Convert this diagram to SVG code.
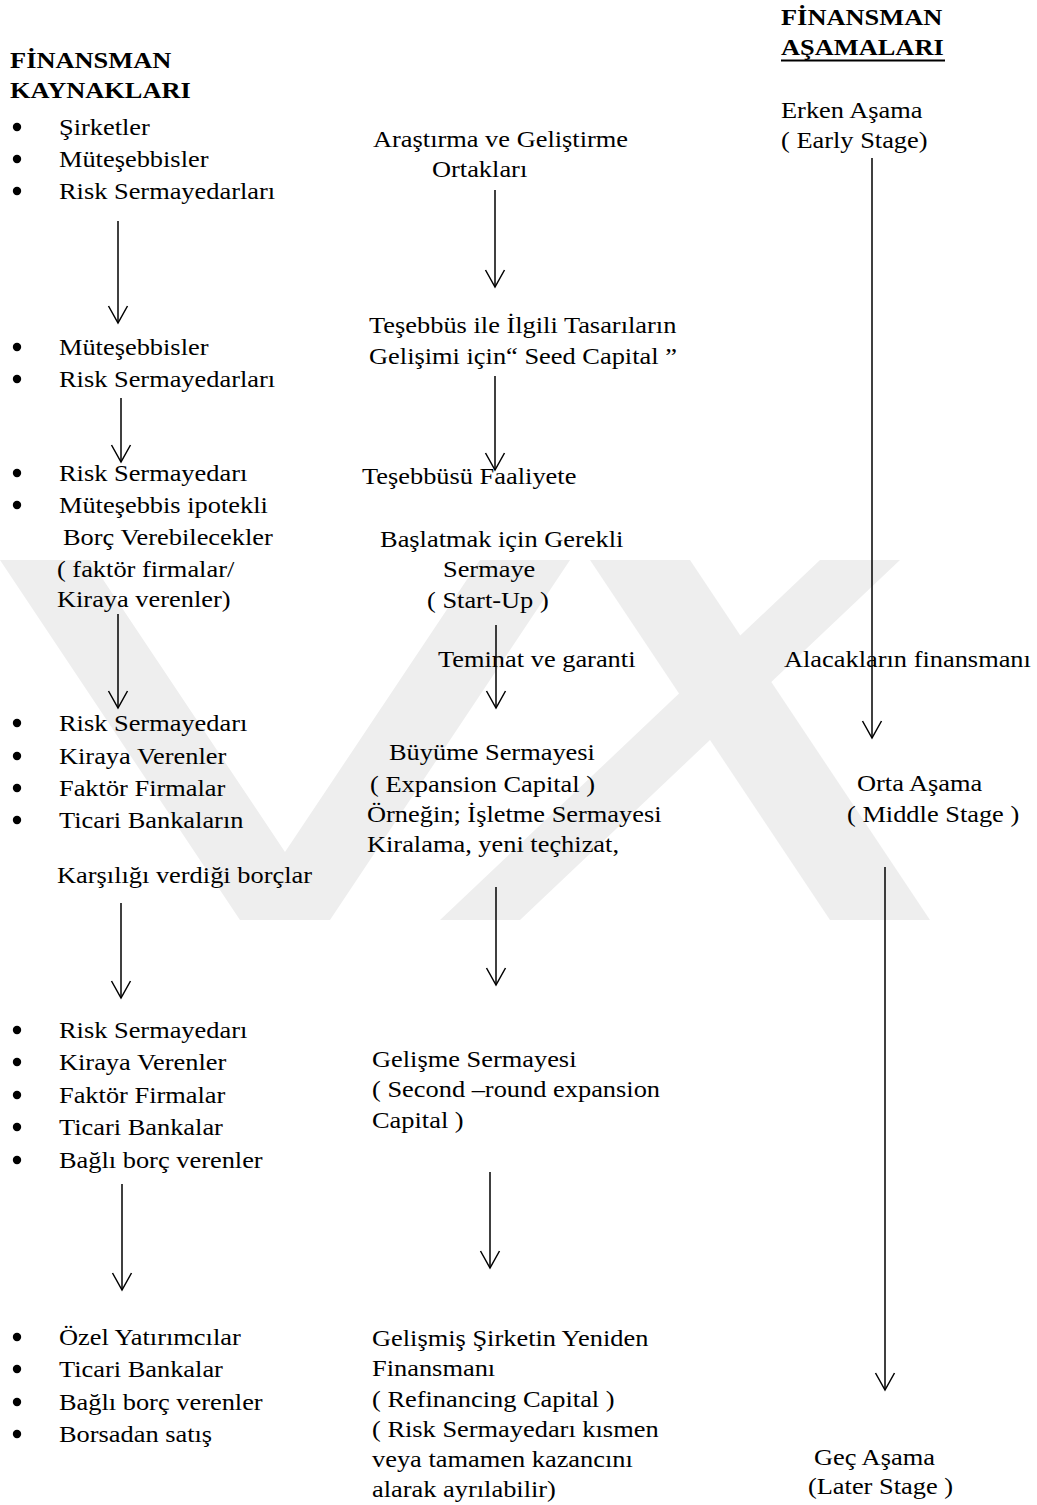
<svg xmlns="http://www.w3.org/2000/svg" width="1037" height="1505" viewBox="0 0 1037 1505">
<style>
.t{font-family:"Liberation Serif","Times New Roman",serif;font-size:24px;fill:#000}
.h{font-family:"Liberation Serif","Times New Roman",serif;font-weight:bold;font-size:24px;fill:#000}
.bl{fill:#000}
.c{stroke:#000;stroke-width:1.5;fill:none;marker-end:url(#ah)}
.wm{fill:#eeeeee}
</style>
<defs>
<marker id="ah" viewBox="-1 -11 20 22" markerWidth="20" markerHeight="22" refX="17" refY="0" orient="auto" markerUnits="userSpaceOnUse">
<path d="M0,-9.5 L17,0 L0,9.5" fill="none" stroke="#000" stroke-width="1.5"/>
</marker>
</defs>
<rect width="1037" height="1505" fill="#fff"/>
<g id="watermark">
<polygon class="wm" points="0,560 90,560 285,852 480,560 570,560 330,920 240,920"/>
<polygon class="wm" points="820,560 900,560 520,920 440,920"/>
<polygon class="wm" points="590,560 690,560 930,920 830,920"/>
</g>
<g id="connectors">
<line class="c" x1="118" y1="221" x2="118" y2="323"/>
<line class="c" x1="121" y1="398" x2="121" y2="462"/>
<line class="c" x1="118" y1="614" x2="118" y2="708"/>
<line class="c" x1="121" y1="903" x2="121" y2="998"/>
<line class="c" x1="122" y1="1184" x2="122" y2="1290"/>
<line class="c" x1="495" y1="190" x2="495" y2="287"/>
<line class="c" x1="495" y1="376" x2="495" y2="470"/>
<line class="c" x1="496" y1="625" x2="496" y2="708"/>
<line class="c" x1="496" y1="887" x2="496" y2="985"/>
<line class="c" x1="490" y1="1172" x2="490" y2="1268"/>
<line class="c" x1="872" y1="158" x2="872" y2="738"/>
<line class="c" x1="885" y1="867" x2="885" y2="1390"/>
</g>
<g id="bullets">
<circle class="bl" cx="17" cy="127" r="4.2"/><circle class="bl" cx="17" cy="159" r="4.2"/><circle class="bl" cx="17" cy="191" r="4.2"/>
<circle class="bl" cx="17" cy="347" r="4.2"/><circle class="bl" cx="17" cy="379" r="4.2"/>
<circle class="bl" cx="17" cy="473" r="4.2"/><circle class="bl" cx="17" cy="505" r="4.2"/>
<circle class="bl" cx="17" cy="723" r="4.2"/><circle class="bl" cx="17" cy="756" r="4.2"/><circle class="bl" cx="17" cy="788" r="4.2"/><circle class="bl" cx="17" cy="820" r="4.2"/>
<circle class="bl" cx="17" cy="1030" r="4.2"/><circle class="bl" cx="17" cy="1062" r="4.2"/><circle class="bl" cx="17" cy="1095" r="4.2"/><circle class="bl" cx="17" cy="1127" r="4.2"/><circle class="bl" cx="17" cy="1160" r="4.2"/>
<circle class="bl" cx="17" cy="1337" r="4.2"/><circle class="bl" cx="17" cy="1369" r="4.2"/><circle class="bl" cx="17" cy="1402" r="4.2"/><circle class="bl" cx="17" cy="1434" r="4.2"/>
</g>
<g id="head-kaynaklar" transform="scale(1.1 1)">
<text class="h" x="9.1" y="68">FİNANSMAN</text>
<text class="h" x="9.1" y="98">KAYNAKLARI</text>
</g>
<g id="kaynak-1" transform="scale(1.1 1)">
<text class="t" x="53.6" y="135">Şirketler</text>
<text class="t" x="53.6" y="167">Müteşebbisler</text>
<text class="t" x="53.6" y="199">Risk Sermayedarları</text>
</g>
<g id="kaynak-2" transform="scale(1.1 1)">
<text class="t" x="53.6" y="355">Müteşebbisler</text>
<text class="t" x="53.6" y="387">Risk Sermayedarları</text>
</g>
<g id="kaynak-3" transform="scale(1.1 1)">
<text class="t" x="53.6" y="481">Risk Sermayedarı</text>
<text class="t" x="53.6" y="513">Müteşebbis ipotekli</text>
<text class="t" x="57.3" y="545">Borç Verebilecekler</text>
<text class="t" x="51.8" y="577">( faktör firmalar/</text>
<text class="t" x="51.8" y="607">Kiraya verenler)</text>
</g>
<g id="kaynak-4" transform="scale(1.1 1)">
<text class="t" x="53.6" y="731">Risk Sermayedarı</text>
<text class="t" x="53.6" y="764">Kiraya Verenler</text>
<text class="t" x="53.6" y="796">Faktör Firmalar</text>
<text class="t" x="53.6" y="828">Ticari Bankaların</text>
<text class="t" x="51.8" y="883">Karşılığı verdiği borçlar</text>
</g>
<g id="kaynak-5" transform="scale(1.1 1)">
<text class="t" x="53.6" y="1038">Risk Sermayedarı</text>
<text class="t" x="53.6" y="1070">Kiraya Verenler</text>
<text class="t" x="53.6" y="1103">Faktör Firmalar</text>
<text class="t" x="53.6" y="1135">Ticari Bankalar</text>
<text class="t" x="53.6" y="1168">Bağlı borç verenler</text>
</g>
<g id="kaynak-6" transform="scale(1.1 1)">
<text class="t" x="53.6" y="1345">Özel Yatırımcılar</text>
<text class="t" x="53.6" y="1377">Ticari Bankalar</text>
<text class="t" x="53.6" y="1410">Bağlı borç verenler</text>
<text class="t" x="53.6" y="1442">Borsadan satış</text>
</g>
<g id="arge" transform="scale(1.1 1)">
<text class="t" x="339.1" y="147">Araştırma ve Geliştirme</text>
<text class="t" x="392.7" y="177">Ortakları</text>
</g>
<g id="seed" transform="scale(1.1 1)">
<text class="t" x="335.5" y="333">Teşebbüs ile İlgili Tasarıların</text>
<text class="t" x="335.5" y="364">Gelişimi için“ Seed Capital ”</text>
</g>
<g id="startup" transform="scale(1.1 1)">
<text class="t" x="329.1" y="484">Teşebbüsü Faaliyete</text>
<text class="t" x="345.5" y="547">Başlatmak için Gerekli</text>
<text class="t" x="402.7" y="577">Sermaye</text>
<text class="t" x="388.2" y="608">( Start-Up )</text>
</g>
<g id="teminat" transform="scale(1.1 1)">
<text class="t" x="398.2" y="667">Teminat ve garanti</text>
</g>
<g id="buyume" transform="scale(1.1 1)">
<text class="t" x="353.6" y="760">Büyüme Sermayesi</text>
<text class="t" x="336.4" y="792">( Expansion Capital )</text>
<text class="t" x="333.6" y="822">Örneğin; İşletme Sermayesi</text>
<text class="t" x="333.6" y="852">Kiralama, yeni teçhizat,</text>
</g>
<g id="gelisme" transform="scale(1.1 1)">
<text class="t" x="338.2" y="1067">Gelişme Sermayesi</text>
<text class="t" x="338.2" y="1097">( Second –round expansion</text>
<text class="t" x="338.2" y="1128">Capital )</text>
</g>
<g id="refinans" transform="scale(1.1 1)">
<text class="t" x="338.2" y="1346">Gelişmiş Şirketin Yeniden</text>
<text class="t" x="338.2" y="1376">Finansmanı</text>
<text class="t" x="338.2" y="1407">( Refinancing Capital )</text>
<text class="t" x="338.2" y="1437">( Risk Sermayedarı kısmen</text>
<text class="t" x="338.2" y="1467">veya tamamen kazancını</text>
<text class="t" x="338.2" y="1497">alarak ayrılabilir)</text>
</g>
<g id="head-asamalar" transform="scale(1.1 1)">
<text class="h" x="710" y="25">FİNANSMAN</text>
<text class="h" x="710" y="55">AŞAMALARI</text>
</g>
<line x1="781" y1="60.5" x2="945" y2="60.5" stroke="#000" stroke-width="2"/>
<g id="erken" transform="scale(1.1 1)">
<text class="t" x="710" y="118">Erken Aşama</text>
<text class="t" x="710" y="148">( Early Stage)</text>
</g>
<g id="alacak" transform="scale(1.1 1)">
<text class="t" x="712.7" y="667">Alacakların finansmanı</text>
</g>
<g id="orta" transform="scale(1.1 1)">
<text class="t" x="779.1" y="791">Orta Aşama</text>
<text class="t" x="770" y="822">( Middle Stage  )</text>
</g>
<g id="gec" transform="scale(1.1 1)">
<text class="t" x="740" y="1465">Geç Aşama</text>
<text class="t" x="734.5" y="1494">(Later Stage )</text>
</g>
</svg>
